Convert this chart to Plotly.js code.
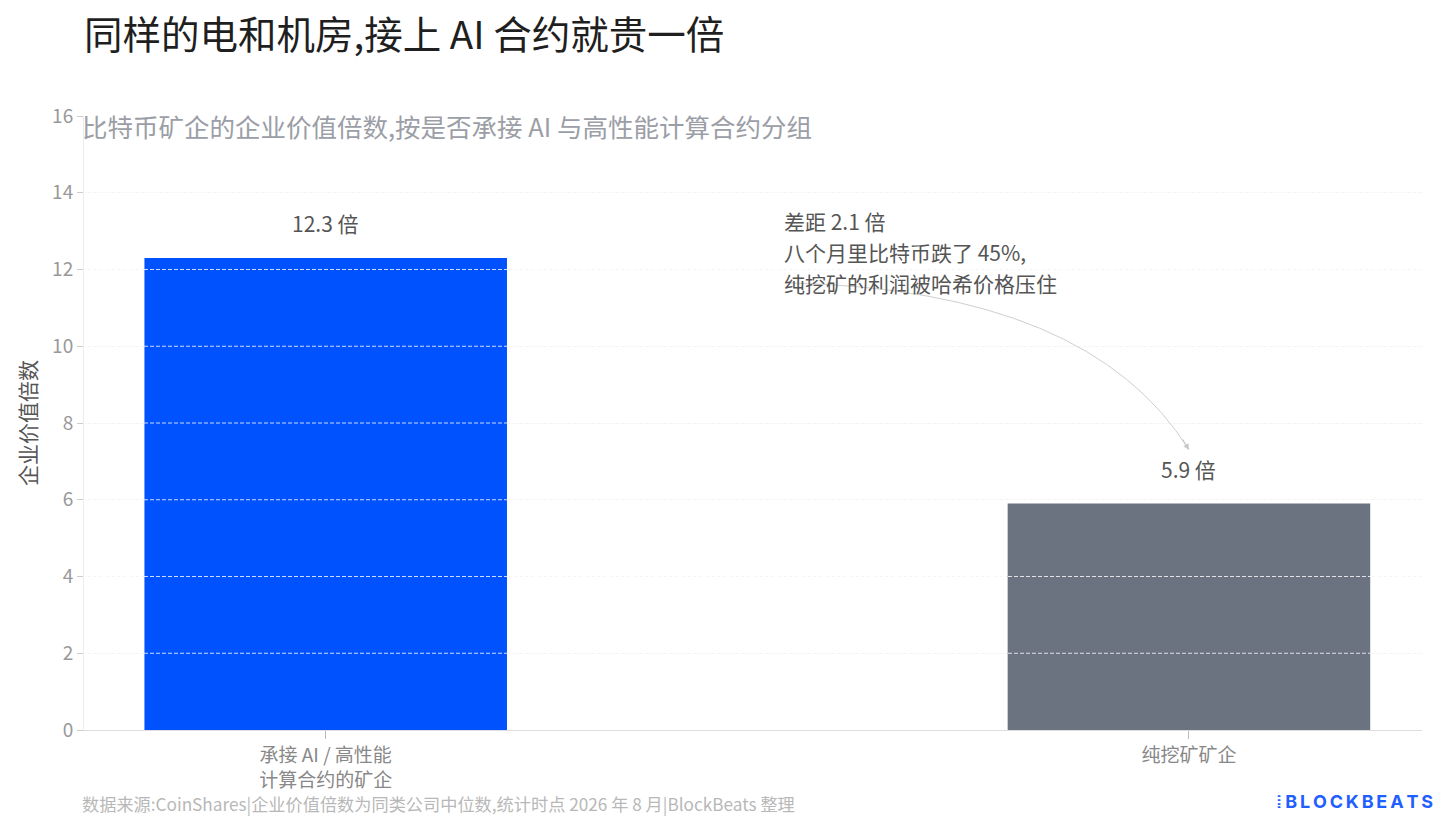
<!DOCTYPE html>
<html>
<head>
<meta charset="utf-8">
<script src="https://cdn.plot.ly/plotly-3.0.1.min.js"></script>
<style>html,body{margin:0;padding:0;background:#fff;}#chart{width:1456px;height:838px;}</style>
</head>
<body>
<div id="chart"></div>
<script>
const categories = ["承接 AI / 高性能<br>计算合约的矿企", "纯挖矿矿企"];
const values = [12.3, 5.9];
const valueLabels = ["12.3 倍", "5.9 倍"];
const barColors = ["#0052FF", "#6B7280"];
const yTicks = [0, 2, 4, 6, 8, 10, 12, 14, 16];

const titleText = "同样的电和机房,接上 AI 合约就贵一倍";
const subtitleText = "比特币矿企的企业价值倍数,按是否承接 AI 与高性能计算合约分组";
const yTitle = "企业价值倍数";
const noteLines = ["差距 2.1 倍", "八个月里比特币跌了 45%,", "纯挖矿的利润被哈希价格压住"];
const sourceText = "数据来源:CoinShares|企业价值倍数为同类公司中位数,统计时点 2026 年 8 月|BlockBeats 整理";
const logoText = "BLOCKBEATS";

const FONT = "'Noto Sans CJK SC', 'Noto Sans', sans-serif";

const trace = {
  type: "bar",
  x: [0, 1],
  y: values,
  width: 0.42,
  marker: {color: barColors, line: {width: 0}},
  hoverinfo: "skip",
  showlegend: false
};

const annotations = [];
values.forEach((v, i) => {
  annotations.push({
    x: i, y: v, xref: "x", yref: "y", text: valueLabels[i], showarrow: false,
    yanchor: "bottom", yshift: 18, font: {family: FONT, size: 21, color: "#555"}
  });
});
// note lines
noteLines.forEach((line, i) => {
  annotations.push({
    x: 0.533, y: 13.27, xref: "x", yref: "y", text: line, showarrow: false,
    xanchor: "left", yanchor: "middle", align: "left", xshift: -4, yshift: -i * 31,
    font: {family: FONT, size: 21, color: "#555"}
  });
});
// arrowhead
annotations.push({
  x: 1.0, y: 7.3, xref: "x", yref: "y", text: "", showarrow: true,
  ax: -7, ay: -12, arrowhead: 2, arrowsize: 1.2, arrowwidth: 1, arrowcolor: "#c8c8c8"
});
// subtitle
annotations.push({
  x: 0, y: 16, xref: "paper", yref: "y", text: subtitleText, showarrow: false,
  xanchor: "left", yanchor: "middle", yshift: -9, xshift: -4,
  font: {family: FONT, size: 25.5, color: "#9b9ea6"}
});
// source
annotations.push({
  x: 0, y: -0.119, xref: "paper", yref: "paper", text: sourceText, showarrow: false,
  xanchor: "left", yanchor: "middle", xshift: -4,
  font: {family: FONT, size: 17.2, color: "#b8b8b8"}
});
// logo
annotations.push({
  x: 1.0, y: -0.117, xref: "paper", yref: "paper",
  text: "<b>⦙ " + logoText.split("").join("\u2009") + "</b>", showarrow: false,
  xanchor: "right", yanchor: "middle", xshift: 13,
  font: {family: "'Inter', 'DejaVu Sans', sans-serif", size: 18, color: "#1f5eff"}
});

const shapes = [];
yTicks.filter(t => t > 0).forEach(t => {
  shapes.push({
    type: "line", xref: "paper", yref: "y", x0: 0, x1: 1, y0: t, y1: t, layer: "above",
    line: {color: "rgba(255,255,255,0.8)", width: 1, dash: "4px,2px"}
  });
});
// curved arrow
shapes.push({
  type: "path", xref: "x", yref: "y", layer: "above",
  path: "M 0.537 11.65 Q 0.885 11.47 1.0 7.3",
  line: {color: "#cfcfcf", width: 1}
});

const layout = {
  width: 1456, height: 838,
  margin: {l: 84, r: 34, t: 116, b: 108},
  paper_bgcolor: "#fff", plot_bgcolor: "#fff",
  font: {family: FONT},
  title: {
    text: titleText, x: 0, xref: "paper", xanchor: "left",
    y: 1 - 36 / 838, yref: "container", yanchor: "middle",
    font: {family: FONT, size: 38.5, color: "#1f1f1f"}
  },
  xaxis: {
    range: [-0.28, 1.27], tickvals: [0, 1], ticktext: categories,
    ticks: "outside", ticklen: 8, tickcolor: "#bbb",
    showline: true, linecolor: "#dedede", showgrid: false, zeroline: false,
    tickfont: {family: FONT, size: 19, color: "#888"}, fixedrange: true
  },
  yaxis: {
    range: [0, 16], tickvals: yTicks, ticks: "outside", ticklen: 6, tickcolor: "#ccc",
    showline: true, linecolor: "#ececec", gridcolor: "#f3f3f3", zeroline: false,
    tickfont: {family: FONT, size: 19, color: "#999"},
    title: {text: yTitle, standoff: 9, font: {family: FONT, size: 21, color: "#555"}},
    automargin: false, fixedrange: true
  },
  annotations: annotations,
  shapes: shapes
};

Plotly.newPlot("chart", [trace], layout, {displayModeBar: false, staticPlot: true});
</script>
</body>
</html>
